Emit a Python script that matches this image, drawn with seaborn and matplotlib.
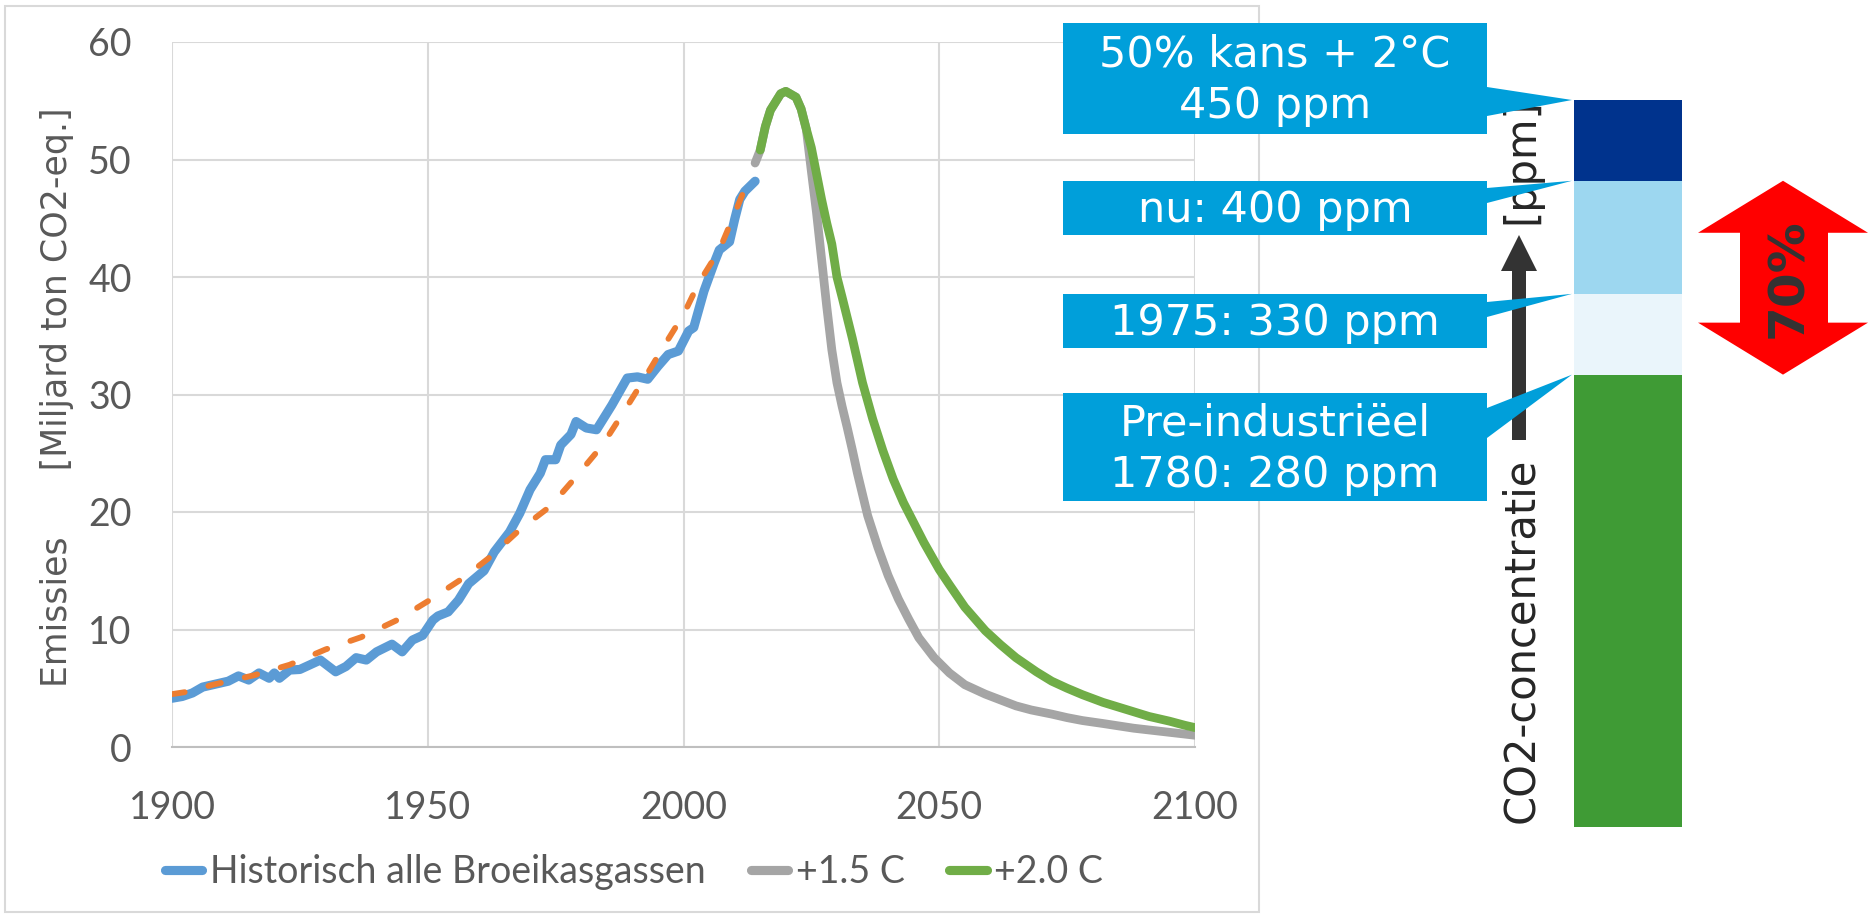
import matplotlib
matplotlib.use("Agg")
import matplotlib.pyplot as plt
from matplotlib.patches import Polygon, Rectangle
from matplotlib.lines import Line2D
import numpy as np
import seaborn as sns

# Historische emissies alle broeikasgassen (miljard ton CO2-eq.)
hist_jaar = [1900, 1902, 1904, 1906, 1908, 1911, 1913, 1915, 1917, 1919,
             1920, 1921, 1923, 1925, 1927, 1929, 1932, 1934, 1936, 1938,
             1940, 1943, 1945, 1947, 1949, 1951, 1952, 1954, 1956, 1958,
             1961, 1963, 1966, 1968, 1970, 1972, 1973, 1975, 1976, 1978,
             1979, 1981, 1983, 1986, 1989, 1991, 1993, 1995, 1997, 1999,
             2001, 2002, 2004, 2006, 2007, 2009, 2010, 2011, 2012, 2014]
hist_waarde = [4.15, 4.3, 4.6, 5.1, 5.3, 5.6, 6.05, 5.7, 6.3, 5.85,
               6.3, 5.85, 6.55, 6.6, 7.0, 7.4, 6.4, 6.85, 7.6, 7.4,
               8.1, 8.75, 8.1, 9.1, 9.5, 10.8, 11.15, 11.5, 12.5, 13.9,
               15.0, 16.6, 18.3, 19.9, 21.9, 23.3, 24.45, 24.45, 25.7, 26.6,
               27.7, 27.15, 27.0, 29.1, 31.4, 31.5, 31.3, 32.4, 33.4, 33.7,
               35.4, 35.7, 38.8, 41.2, 42.3, 43.0, 44.9, 46.6, 47.3, 48.15]

# trendlijn (oranje stippellijn)
trend_jaar = [1900, 1903, 1908, 1916, 1923, 1930, 1937, 1944, 1950, 1957,
              1962, 1968, 1974, 1979, 1984, 1988, 1992, 1996, 2000, 2003,
              2007, 2010, 2013]
trend_waarde = [4.5, 4.7, 5.3, 6.1, 7.0, 8.3, 9.35, 10.8, 12.4, 14.4,
                16.1, 18.5, 20.5, 23.0, 25.6, 28.3, 31.1, 34.0, 36.8, 39.5,
                42.3, 45.4, 48.6]

# scenario +1.5 C
s15_jaar = [2014, 2015, 2016, 2017, 2019, 2020, 2022, 2023, 2024, 2025,
            2026, 2027, 2028, 2029, 2030, 2031, 2032, 2033, 2034, 2035,
            2036, 2038, 2040, 2042, 2044, 2046, 2049, 2052, 2055, 2059,
            2062, 2065, 2068, 2072, 2075, 2078, 2082, 2085, 2088, 2091,
            2095, 2100]
s15_waarde = [49.7, 50.8, 52.8, 54.2, 55.6, 55.8, 55.3, 54.3, 52.6, 49.0,
              45.5, 41.5, 37.5, 33.8, 31.0, 29.0, 27.2, 25.3, 23.3, 21.5,
              19.7, 17.0, 14.6, 12.6, 10.9, 9.3, 7.6, 6.3, 5.3, 4.5,
              4.0, 3.5, 3.15, 2.8, 2.5, 2.25, 2.0, 1.8, 1.6, 1.45,
              1.25, 1.0]

# scenario +2.0 C
s20_jaar = [2015, 2016, 2017, 2019, 2020, 2022, 2023, 2024, 2025, 2026,
            2027, 2028, 2029, 2030, 2031, 2033, 2035, 2037, 2039, 2041,
            2043, 2045, 2047, 2050, 2052, 2055, 2059, 2062, 2065, 2069,
            2072, 2075, 2078, 2082, 2085, 2088, 2091, 2095, 2098, 2100]
s20_waarde = [50.8, 52.8, 54.2, 55.6, 55.8, 55.3, 54.3, 52.6, 51.0, 48.8,
              46.6, 44.6, 42.8, 40.0, 38.3, 34.8, 31.0, 27.9, 25.2, 22.8,
              20.8, 19.1, 17.4, 15.1, 13.8, 11.9, 9.9, 8.7, 7.6, 6.4,
              5.6, 5.0, 4.45, 3.8, 3.4, 3.0, 2.6, 2.2, 1.85, 1.65]

legend_labels = ["Historisch alle Broeikasgassen", "+1.5 C", "+2.0 C"]

# CO2-concentratie staaf (ppm)
ppm_niveaus = [280, 330, 400, 450]
ppm_kleuren = ["#3F9B35", "#EAF5FB", "#9DD7F0", "#00338D"]
ppm_teksten = ["Pre-industriëel\n1780: 280 ppm", "1975: 330 ppm",
               "nu: 400 ppm", "50% kans + 2°C\n450 ppm"]

W, H = 1874, 914
grijs = "#595959"

sns.set_style("white")
plt.rcParams["font.family"] = ["Lato", "DejaVu Sans"]

fig = plt.figure(figsize=(W / 100, H / 100), dpi=100)

# hoofdgrafiek
ax = fig.add_axes([172 / W, 1 - 747 / H, (1195 - 172) / W, (747 - 42) / H])
sns.lineplot(x=hist_jaar, y=hist_waarde, ax=ax, color="#5B9BD5", linewidth=6.6,
             sort=False, estimator=None, solid_capstyle="round",
             solid_joinstyle="round", zorder=3)
sns.lineplot(x=trend_jaar, y=trend_waarde, ax=ax, color="#ED7D31", linewidth=4.2,
             sort=False, estimator=None, linestyle=(0, (2.2, 4.2)),
             dash_capstyle="round", zorder=4)
sns.lineplot(x=s15_jaar, y=s15_waarde, ax=ax, color="#A5A5A5", linewidth=6.3,
             sort=False, estimator=None, solid_capstyle="round",
             solid_joinstyle="round", zorder=5)
sns.lineplot(x=s20_jaar, y=s20_waarde, ax=ax, color="#70AD47", linewidth=6.3,
             sort=False, estimator=None, solid_capstyle="round",
             solid_joinstyle="round", zorder=6)

ax.set_xlim(1900, 2100)
ax.set_ylim(0, 60)
ax.set_xticks([1900, 1950, 2000, 2050, 2100])
ax.set_yticks(range(0, 61, 10))
ax.grid(True, color="#D9D9D9", linewidth=1.5)
ax.set_axisbelow(True)
for s in ["top", "right", "left"]:
    ax.spines[s].set_visible(False)
ax.spines["bottom"].set_color("#BFBFBF")
ax.spines["bottom"].set_linewidth(1.5)
ax.tick_params(axis="x", length=0, labelsize=27, labelcolor=grijs, pad=31)
ax.tick_params(axis="y", length=0, labelsize=27, labelcolor=grijs, pad=29)
ax.set_xlabel("")
ax.set_ylabel("")

fig.text(57 / W, 1 - 397 / H, "Emissies      [Miljard ton CO2-eq.]", rotation=90,
         ha="center", va="center", fontsize=25, color=grijs, family="DejaVu Sans")

handles = [Line2D([], [], color=c, linewidth=6.6, solid_capstyle="round")
           for c in ["#5B9BD5", "#A5A5A5", "#70AD47"]]
fig.legend(handles, legend_labels, loc="center", bbox_to_anchor=(634 / W, 1 - 872 / H),
           ncol=3, frameon=False, fontsize=27, handlelength=1.0, handletextpad=0.2,
           columnspacing=1.2, labelcolor=grijs)

# gestapelde staaf met ppm niveaus
ax2 = fig.add_axes([1574 / W, 1 - 827 / H, 108 / W, 727 / H])
onder = [0] + ppm_niveaus[:-1]
hoogte = np.diff([0] + ppm_niveaus)
ax2.bar([0] * len(hoogte), hoogte, bottom=onder, width=1.0, color=ppm_kleuren,
        linewidth=0)
ax2.set_xlim(-0.5, 0.5)
ax2.set_ylim(0, ppm_niveaus[-1])
ax2.axis("off")

# overlay in pixelcoordinaten voor kaders en pijlen
ov = fig.add_axes([0, 0, 1, 1], zorder=5)
ov.set_xlim(0, W)
ov.set_ylim(H, 0)
ov.axis("off")


def ppm_y(v):
    return H - ax2.transData.transform((0, v))[1]


ov.add_patch(Rectangle((5, 6), 1254, 906, fill=False, ec="#D9D9D9", lw=1.5))

# kaders: (boven, onder, pijl van, pijl tot)
kaders = [(393, 501, 408, 438), (294, 348, 302, 317),
          (181, 235, 188, 203), (23, 134, 87, 116)]
bx0, bx1, tip_x = 1063, 1487, 1572
for tekst, niveau, (top, bot, p0, p1) in zip(ppm_teksten, ppm_niveaus, kaders):
    ty = ppm_y(niveau)
    pts = [(bx0, top), (bx1, top), (bx1, p0), (tip_x, ty), (bx1, p1),
           (bx1, bot), (bx0, bot)]
    ov.add_patch(Polygon(pts, closed=True, fc="#009FDA", ec="none", zorder=4))
    ov.text((bx0 + bx1) / 2, (top + bot) / 2 + 2, tekst, ha="center", va="center",
            color="white", fontsize=31, family="DejaVu Sans", linespacing=1.3,
            zorder=6)

# zwarte pijl met as-tekst
ov.add_patch(Polygon([(1512, 440), (1512, 271), (1501, 271), (1519, 235),
                      (1537, 271), (1526, 271), (1526, 440)],
                     closed=True, fc="#333333", ec="none", zorder=3))
ov.text(1521, 823, "CO2-concentratie", rotation=90, ha="center", va="bottom",
        fontsize=30, color="#262626", family="DejaVu Sans", zorder=2)
ov.text(1521, 224, "[ppm]", rotation=90, ha="center", va="bottom",
        fontsize=30, color="#262626", family="DejaVu Sans", zorder=2)

# rode dubbele pijl 70%
y_top = ppm_y(ppm_niveaus[2])
y_bot = ppm_y(ppm_niveaus[0])
cx = 1783
ov.add_patch(Polygon([(cx, y_top), (1868, y_top + 52), (1828, y_top + 52),
                      (1828, y_bot - 52), (1868, y_bot - 52), (cx, y_bot),
                      (1698, y_bot - 52), (1740, y_bot - 52), (1740, y_top + 52),
                      (1698, y_top + 52)],
                     closed=True, fc="#FF0000", ec="none", zorder=3))
ov.text(1788, (y_top + y_bot) / 2, "70%", rotation=90, ha="center", va="center",
        fontsize=36, fontweight="bold", color="#333333", family="DejaVu Sans",
        zorder=4)

fig.savefig("out.png", dpi=100)
